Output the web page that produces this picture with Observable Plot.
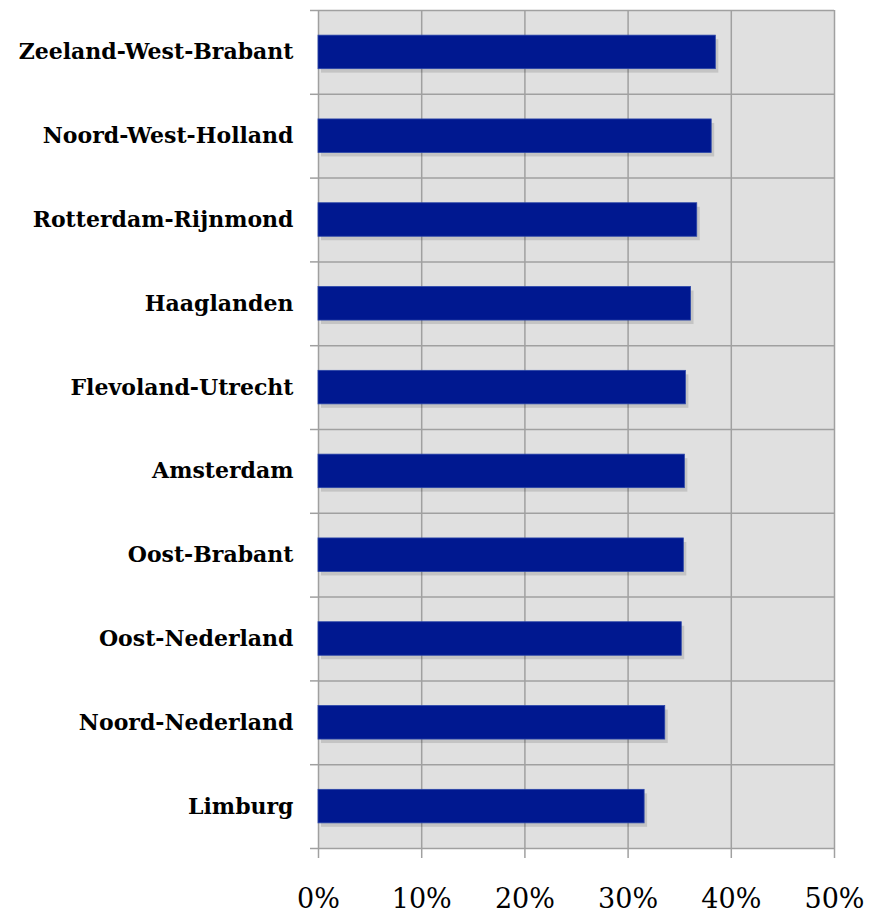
<!DOCTYPE html>
<html><head><meta charset="utf-8">
<script src="https://cdn.jsdelivr.net/npm/d3@7"></script>
<script src="https://cdn.jsdelivr.net/npm/@observablehq/plot@0.6"></script>
<style>body{margin:0;background:#fff}</style>
</head><body><div id="chart"></div>
<script>
const regions = ["Zeeland-West-Brabant","Noord-West-Holland","Rotterdam-Rijnmond","Haaglanden","Flevoland-Utrecht","Amsterdam","Oost-Brabant","Oost-Nederland","Noord-Nederland","Limburg"];
const shares = [0.385,0.381,0.367,0.361,0.356,0.355,0.354,0.352,0.336,0.316];
const xTicks = [0,0.1,0.2,0.3,0.4,0.5];
const data = regions.map((r,i)=>({region:r, value:shares[i], i}));
const bounds = d3.range(regions.length + 1);
const chart = Plot.plot({
  width:870, height:914, marginTop:10, marginBottom:66, marginLeft:318, marginRight:36,
  x:{domain:[0,0.5], label:null},
  y:{domain:[0,regions.length], reverse:true, label:null},
  style:{fontFamily:"DejaVu Serif", color:"#000", background:"#fff"},
  marks:[
    Plot.frame({fill:"#e0e0e0", stroke:"none"}),
    Plot.gridX(xTicks, {stroke:"#a0a0a0", strokeOpacity:1, strokeWidth:1.5}),
    Plot.gridY(bounds, {stroke:"#a0a0a0", strokeOpacity:1, strokeWidth:1.5}),
    Plot.rect(data, {x1:0, x2:"value", y1:d=>d.i+0.3, y2:d=>d.i+0.7, fill:"#000", fillOpacity:0.12, dx:3, dy:4}),
    Plot.rect(data, {x1:0, x2:"value", y1:d=>d.i+0.3, y2:d=>d.i+0.7, fill:"#001890", stroke:"#2a45a8", strokeWidth:0.8}),
    Plot.axisX(xTicks, {label:null, tickFormat:d=>Math.round(d*100)+"%", tickSize:10, tickPadding:30, fontSize:27, stroke:"#a0a0a0", strokeWidth:1.5, fill:"#000"}),
    Plot.axisY(bounds, {label:null, tickSize:8, tickFormat:()=>"", stroke:"#a0a0a0", strokeWidth:1.5}),
    Plot.text(data, {x:0, y:d=>d.i+0.5, text:"region", textAnchor:"end", dx:-25, fontWeight:"bold", fontSize:22, fill:"#000"})
  ]
});
document.getElementById("chart").appendChild(chart);
</script>
</body></html>
